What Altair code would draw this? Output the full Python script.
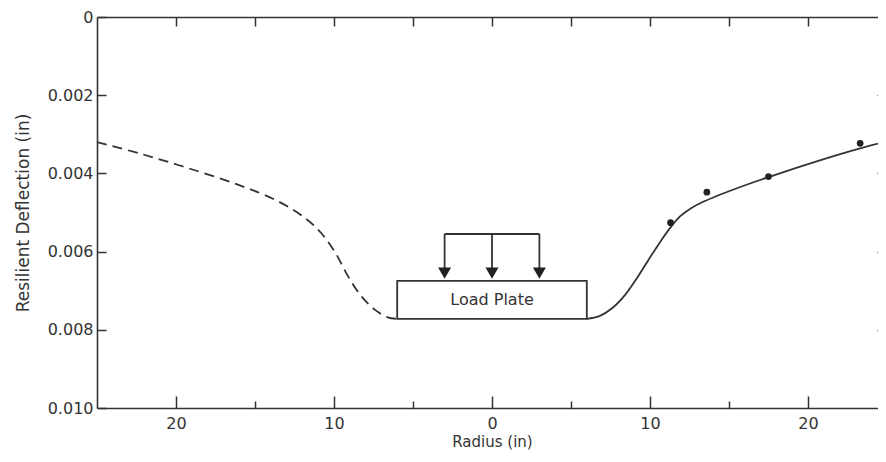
import altair as alt
import pandas as pd

# Left (dashed, inferred) deflection basin
left_r = [-25.0, -22.3, -19.2, -16.0, -13.5, -11.8, -10.8, -9.9, -9.1, -8.25, -7.4, -6.6, -6.0]
left_d = [0.00320, 0.00349, 0.00387, 0.00430, 0.00472, 0.00515, 0.00553, 0.00604,
          0.00664, 0.00715, 0.00749, 0.00768, 0.00772]

# Right (solid, fitted) deflection basin
right_r = [6.0, 6.8, 7.6, 8.4, 9.2, 10.0, 10.7, 11.3, 11.9, 12.6, 13.4, 15.5, 17.6, 20.8, 23.3, 25.0]
right_d = [0.00772, 0.00765, 0.00745, 0.00712, 0.00666, 0.00615, 0.00572, 0.00538, 0.00510,
           0.00489, 0.00472, 0.00438, 0.00408, 0.00366, 0.00336, 0.00318]

# Measured sensor deflections
meas_r = [11.3, 13.6, 17.5, 23.3]
meas_d = [0.00526, 0.00448, 0.00408, 0.00323]

# Load plate and arrows
plate_r = [-6.0, 6.0]
plate_d = [0.00675, 0.00772]
arrow_r = [-3.0, 0.0, 3.0]
arrow_top = 0.00555
arrow_head = 0.00655

x_major = [-20, -10, 0, 10, 20]
x_minor = [-15, -5, 5, 15]
y_ticks = [0, 0.002, 0.004, 0.006, 0.008, 0.010]

FONT = "DejaVu Sans"
INK = "#333333"

xs = alt.Scale(domain=[-25, 25], nice=False, zero=False)
ys = alt.Scale(domain=[0, 0.010], reverse=True, nice=False, zero=False)

left_df = pd.DataFrame({"r": left_r, "d": left_d})
right_df = pd.DataFrame({"r": right_r, "d": right_d})
meas_df = pd.DataFrame({"r": meas_r, "d": meas_d})
plate_df = pd.DataFrame({"r": [plate_r[0]], "r2": [plate_r[1]],
                         "d": [plate_d[0]], "d2": [plate_d[1]], "label": ["Load Plate"]})
arrows_df = pd.DataFrame({"r": arrow_r, "top": [arrow_top] * 3,
                          "bot": [plate_d[0]] * 3, "head": [arrow_head] * 3})
bar_df = pd.DataFrame({"r": [arrow_r[0]], "r2": [arrow_r[-1]], "d": [arrow_top]})

ax_tick = dict(tickColor=INK, tickWidth=1.5, labelFont=FONT, labelColor=INK,
               titleFont=FONT, titleColor=INK, grid=False, titleFontWeight="normal")
ax_common = dict(domainColor=INK, domainWidth=1.6, **ax_tick)

x_bottom = alt.Axis(orient="bottom", values=x_major, tickSize=alt.ExprRef(expr="-12"),
                    labelPadding=19, labelFontSize=16,
                    labelExpr="format(abs(datum.value), 'd')",
                    title="Radius (in)", titleFontSize=15, titlePadding=3, **ax_common)
y_left = alt.Axis(orient="left", values=y_ticks, tickSize=alt.ExprRef(expr="-9"),
                  labelPadding=13, labelFontSize=16,
                  labelExpr="datum.value == 0 ? '0' : format(datum.value, '.3f')",
                  title="Resilient Deflection (in)", titleFontSize=17, titlePadding=15,
                  **ax_common)

left_line = alt.Chart(left_df).mark_line(color=INK, strokeWidth=1.8,
                                         strokeDash=[10, 6], interpolate="catmull-rom").encode(
    x=alt.X("r:Q", scale=xs, axis=x_bottom),
    y=alt.Y("d:Q", scale=ys, axis=y_left),
)

right_line = alt.Chart(right_df).mark_line(color=INK, strokeWidth=1.8,
                                           interpolate="catmull-rom").encode(
    x=alt.X("r:Q", scale=xs, axis=alt.Axis(orient="top", values=x_major + x_minor,
                                           tickSize=alt.ExprRef(expr="-9"), labels=False,
                                           title=None, **ax_common)),
    y=alt.Y("d:Q", scale=ys, axis=alt.Axis(orient="right", values=y_ticks[1:-1],
                                           tickSize=alt.ExprRef(expr="-10"), labels=False,
                                           title=None, **ax_common)),
)

pts = alt.Chart(meas_df).mark_circle(color="#222222", size=45, opacity=1).encode(
    x=alt.X("r:Q", scale=xs, axis=alt.Axis(orient="bottom", values=x_minor,
                                           tickSize=alt.ExprRef(expr="-7"), labels=False,
                                           domain=False, title=None, **ax_tick)),
    y=alt.Y("d:Q", scale=ys, axis=None),
)

plate = alt.Chart(plate_df).mark_rect(fill="white", stroke=INK, strokeWidth=1.8).encode(
    x=alt.X("r:Q", scale=xs, axis=None), x2="r2:Q",
    y=alt.Y("d:Q", scale=ys, axis=None), y2="d2:Q",
)
plate_text = alt.Chart(plate_df).transform_calculate(
    mid_r="(datum.r + datum.r2) / 2", mid_d="(datum.d + datum.d2) / 2"
).mark_text(font=FONT, fontSize=16, color=INK).encode(
    x=alt.X("mid_r:Q", scale=xs, axis=None),
    y=alt.Y("mid_d:Q", scale=ys, axis=None),
    text="label:N",
)

stems = alt.Chart(arrows_df).mark_rule(color=INK, strokeWidth=1.8).encode(
    x=alt.X("r:Q", scale=xs, axis=None),
    y=alt.Y("top:Q", scale=ys, axis=None), y2="head:Q",
)
bar = alt.Chart(bar_df).mark_rule(color=INK, strokeWidth=1.8).encode(
    x=alt.X("r:Q", scale=xs, axis=None), x2="r2:Q",
    y=alt.Y("d:Q", scale=ys, axis=None),
)
heads = alt.Chart(arrows_df).mark_point(shape="triangle-down", filled=True, color="#222222",
                                        size=170, opacity=1).encode(
    x=alt.X("r:Q", scale=xs, axis=None),
    y=alt.Y("head:Q", scale=ys, axis=None),
)

chart = alt.layer(left_line, right_line, pts, plate, plate_text, stems, bar, heads).resolve_axis(
    x="independent", y="independent"
).properties(
    width=790, height=391,
    autosize=alt.AutoSizeParams(type="none"),
    padding={"left": 89, "top": 9, "right": -9, "bottom": 46},
    background="white",
).configure_view(stroke=None)

chart.save("out.html", embed_options={"renderer": "svg", "actions": False})
